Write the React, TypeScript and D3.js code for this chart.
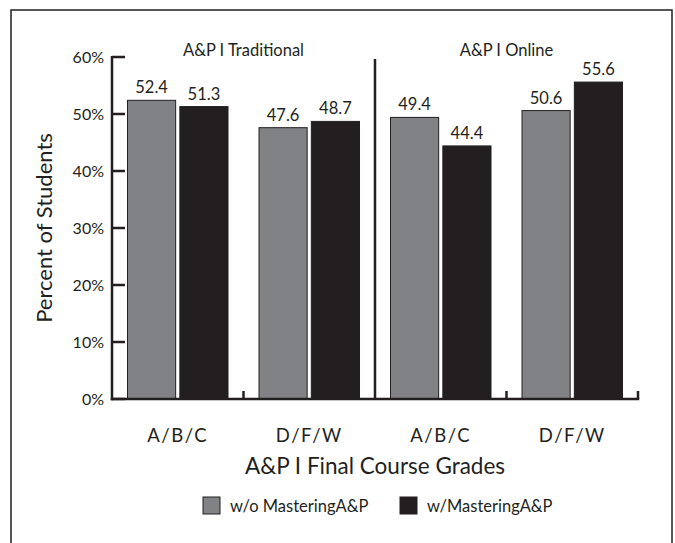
import React from "react";
import * as d3 from "d3";

const panels = ["A&P I Traditional", "A&P I Online"];
const categories = ["A/B/C", "D/F/W", "A/B/C", "D/F/W"];
const withoutMastering = [52.4, 47.6, 49.4, 50.6];
const withMastering = [51.3, 48.7, 44.4, 55.6];
const yTicks = [0, 10, 20, 30, 40, 50, 60];
const seriesNames = ["w/o MasteringA&P", "w/MasteringA&P"];

const INK = "#231f20";
const GRAY = "#818285";
const FONT = "Lato, 'Open Sans', sans-serif";

export default function App() {
  const width = 675;
  const height = 543;
  const x0 = 112;
  const x1 = 638;
  const yBase = 399;
  const yTop = 57;

  const x = d3.scaleBand<number>().domain(d3.range(categories.length)).range([x0, x1]).padding(0);
  const sub = d3
    .scaleBand<number>()
    .domain([0, 1])
    .range([15.5, x.bandwidth() - 15.5])
    .paddingInner(0.08);
  const y = d3.scaleLinear().domain([0, 60]).range([yBase, yTop]);

  const series = [withoutMastering, withMastering];
  const fills = [GRAY, INK];

  const dividerX = x(2)!;
  const panelCenters = [(x(0)! + x(1)! + x.bandwidth()) / 2, (x(2)! + x(3)! + x.bandwidth()) / 2];

  return (
    <svg
      width={width}
      height={height}
      style={{ position: "absolute", left: 0, top: 0, background: "#fff" }}
      fontFamily={FONT}
      fontWeight={400}
    >
      <rect x={11} y={10} width={661} height={545} fill="#fff" stroke={INK} strokeWidth={1.5} />

      {/* bars */}
      {series.map((vals, s) =>
        vals.map((v, i) => (
          <rect
            key={`b${s}-${i}`}
            x={x(i)! + sub(s)!}
            y={y(v)}
            width={sub.bandwidth()}
            height={yBase - y(v)}
            fill={fills[s]}
            stroke={INK}
            strokeWidth={1}
          />
        ))
      )}

      {/* value labels */}
      {series.map((vals, s) =>
        vals.map((v, i) => (
          <text
            key={`l${s}-${i}`}
            x={x(i)! + sub(s)! + sub.bandwidth() / 2}
            y={y(v) - 7}
            textAnchor="middle"
            fontSize={16.5}
            fill={INK}
          >
            {v.toFixed(1)}
          </text>
        ))
      )}

      {/* y axis */}
      <line x1={x0} x2={x0} y1={y(60) - 1} y2={yBase + 1.25} stroke={INK} strokeWidth={2.5} />
      {yTicks.map((t) => (
        <g key={`t${t}`}>
          <line x1={x0} x2={x0 + 13} y1={y(t)} y2={y(t)} stroke={INK} strokeWidth={2.5} />
          <text x={104} y={y(t) + 6} textAnchor="end" fontSize={16} fill={INK}>
            {t}%
          </text>
        </g>
      ))}

      {/* x axis baseline with group ticks */}
      <line x1={x0 - 1.25} x2={x1 + 1.25} y1={yBase} y2={yBase} stroke={INK} strokeWidth={2.5} />
      {[x(1)!, x(3)!, x1].map((px, i) => (
        <line key={`xt${i}`} x1={px} x2={px} y1={yBase} y2={yBase - 8} stroke={INK} strokeWidth={2.5} />
      ))}
      <line x1={dividerX} x2={dividerX} y1={59} y2={yBase} stroke={INK} strokeWidth={2.5} />

      {/* panel titles */}
      {panels.map((p, i) => (
        <text key={`p${i}`} x={panelCenters[i]} y={56} textAnchor="middle" fontSize={16.5} fill={INK}>
          {p}
        </text>
      ))}

      {/* category labels */}
      {categories.map((c, i) => (
        <text
          key={`c${i}`}
          x={x(i)! + x.bandwidth() / 2}
          y={442}
          textAnchor="middle"
          fontSize={18.5}
          fill={INK}
          letterSpacing={1.5}
        >
          {c}
        </text>
      ))}

      {/* axis titles */}
      <text x={(x0 + x1) / 2} y={474} textAnchor="middle" fontSize={22.5} fill={INK}>
        A&amp;P I Final Course Grades
      </text>
      <text
        transform={`translate(52, ${(yTop + yBase) / 2}) rotate(-90)`}
        textAnchor="middle"
        fontSize={22}
        fill={INK}
      >
        Percent of Students
      </text>

      {/* legend */}
      {seriesNames.map((n, i) => {
        const lx = i === 0 ? 203 : 400;
        return (
          <g key={`lg${i}`}>
            <rect x={lx} y={497} width={17} height={17} fill={fills[i]} stroke={INK} strokeWidth={1} />
            <text x={lx + 27} y={512} fontSize={16.5} fill={INK}>
              {n}
            </text>
          </g>
        );
      })}
    </svg>
  );
}
